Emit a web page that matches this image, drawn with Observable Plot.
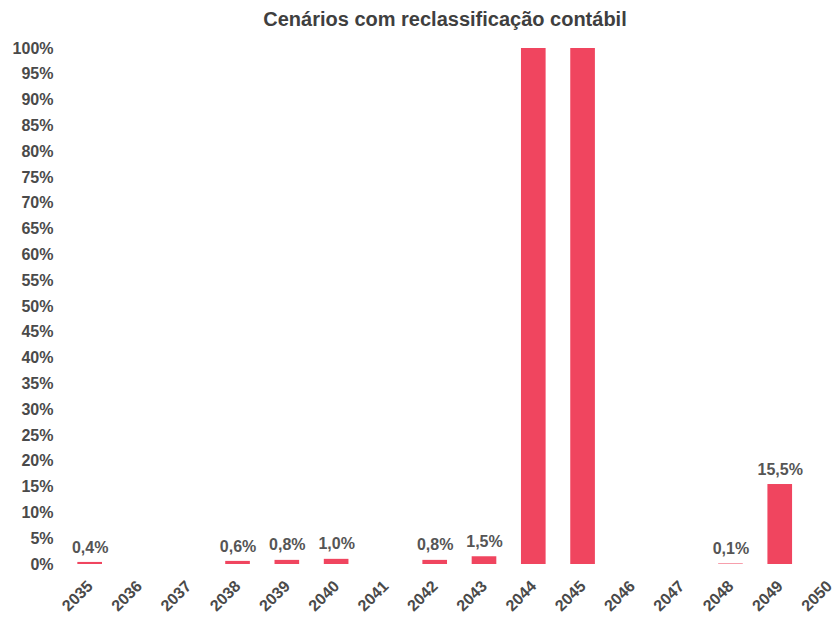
<!DOCTYPE html>
<html>
<head>
<meta charset="utf-8">
<script src="https://cdn.jsdelivr.net/npm/d3@7"></script>
<script src="https://cdn.jsdelivr.net/npm/@observablehq/plot@0.6"></script>
<style>
  html, body { margin: 0; padding: 0; background: #fff; }
  #wrap { width: 838px; height: 631px; overflow: hidden; position: relative; }
  #title { height: 30px; line-height: 38px; padding-left: 52px; text-align: center;
           font-family: "Liberation Sans", Arial, sans-serif; font-weight: bold; font-size: 20px; color: #3f3f3f; }
</style>
</head>
<body>
<div id="wrap">
  <div id="title">Cenários com reclassificação contábil</div>
  <div id="chart"></div>
</div>
<script>
const years = ["2035","2036","2037","2038","2039","2040","2041","2042","2043","2044","2045","2046","2047","2048","2049","2050"];
const values = [0.4, null, null, 0.6, 0.8, 1.0, null, 0.8, 1.5, 100, 100, null, null, 0.1, 15.5, null];
const labels = ["0,4%", null, null, "0,6%", "0,8%", "1,0%", null, "0,8%", "1,5%", null, null, null, null, "0,1%", "15,5%", null];
const yTicks = d3.range(0, 101, 5);

const data = years.map((y, i) => ({year: y, value: values[i], label: labels[i]}));
const bars = data.filter(d => d.value != null);
const texts = data.filter(d => d.label != null);

const chart = Plot.plot({
  width: 838,
  height: 601,
  marginLeft: 56,
  marginRight: 0,
  marginTop: 18,
  marginBottom: 67,
  style: {fontFamily: "'Liberation Sans', Arial, sans-serif", fontWeight: "bold", fontSize: "16px", color: "#4a4a4a", overflow: "hidden"},
  x: {type: "band", domain: years, range: [52.7, 866], paddingInner: 0.5, paddingOuter: 0.5, round: false, label: null},
  y: {domain: [0, 100], label: null},
  marks: [
    Plot.barY(bars, {x: "year", y: "value", fill: "#f0455f"}),
    Plot.text(texts, {x: "year", y: "value", text: "label", dy: -15, fill: "#555", fontSize: 16, fontWeight: "bold"}),
    Plot.axisY({ticks: yTicks, tickFormat: d => d + "%", tickSize: 0, tickPadding: 3, fontSize: 16, fontWeight: "bold", fill: "#4a4a4a"}),
    Plot.axisX({tickSize: 0, tickPadding: 19, tickRotate: -45, fontSize: 16, fontWeight: "bold", fill: "#4a4a4a"})
  ]
});
document.getElementById("chart").appendChild(chart);
</script>
</body>
</html>
